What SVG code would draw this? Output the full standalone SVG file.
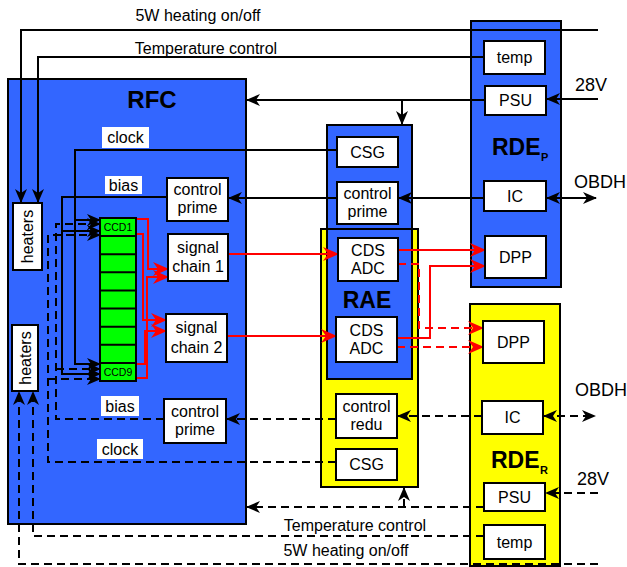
<svg xmlns="http://www.w3.org/2000/svg" width="627" height="567" viewBox="0 0 627 567">
<style>
text{font-family:"Liberation Sans",Arial,sans-serif;fill:#000}
.lbl{font-size:16px;text-anchor:middle}
.side{font-size:18px}
.ttl{font-size:23px;font-weight:bold}
.sub{font-size:11px;font-weight:bold}
.ccdt{font-size:10.5px;text-anchor:middle}
.box{fill:#fff;stroke:#000;stroke-width:2}
.blue{fill:#3366ff;stroke:#000;stroke-width:2}
.yel{fill:#ffff00;stroke:#000;stroke-width:2}
.tag{fill:#fff;stroke:none}
.k{fill:none;stroke:#000;stroke-width:2}
.kd{fill:none;stroke:#000;stroke-width:2;stroke-dasharray:8,5}
.r{fill:none;stroke:#ff0000;stroke-width:2}
.rd{fill:none;stroke:#ff0000;stroke-width:2;stroke-dasharray:8,5}
.k,.kd{marker-end:url(#ak)}
.r,.rd{marker-end:url(#ar)}
.both{marker-start:url(#ak)}
</style>
<defs>
<marker id="ak" viewBox="0 0 14 12" markerWidth="14" markerHeight="12" refX="13" refY="6" orient="auto-start-reverse" markerUnits="userSpaceOnUse"><path d="M0,0 L14,6 L0,12 L4,6 z" fill="#000" stroke="none"/></marker>
<marker id="ar" viewBox="0 0 16 14" markerWidth="16" markerHeight="14" refX="15" refY="7" orient="auto" markerUnits="userSpaceOnUse"><path d="M0,0 L16,7 L0,14 L5,7 z" fill="#ff0000" stroke="none"/></marker>
</defs>

<!-- containers -->
<g id="RFC">
<rect class="blue" x="8" y="79" width="238" height="445"/>
<text class="ttl" x="152" y="108" text-anchor="middle" style="font-size:24px">RFC</text>
</g>
<g id="RAE">
<rect x="321" y="229" width="97" height="258" fill="#ffff00"/>
<rect class="blue" x="327" y="125" width="85" height="254"/>
<rect x="321" y="229" width="97" height="258" fill="none" stroke="#000" stroke-width="2"/>
<text class="ttl" x="367" y="308" text-anchor="middle">RAE</text>
</g>
<g id="RDE_P">
<rect class="blue" x="471" y="21" width="90" height="266"/>
<text class="ttl" x="492" y="155">RDE</text><text class="sub" x="541" y="161">P</text>
</g>
<g id="RDE_R">
<rect class="yel" x="470" y="304" width="90" height="262"/>
<text class="ttl" x="491" y="468">RDE</text><text class="sub" x="540" y="474">R</text>
</g>

<!-- connectors -->
<g id="connectors">
<path class="k" d="M598,30 H21 V202"/>
<path class="k" d="M484,57 H38 V202"/>
<path class="k" d="M598,99 H547"/>
<path class="k" d="M485,100 H247"/>
<path class="k" d="M402,100 V124"/>
<path class="k both" d="M547,198 H596"/>
<path class="k" d="M484,198 H399"/>
<path class="k" d="M337,198 H229"/>
<path class="k" d="M337,150 H75 V364 H100"/>
<path class="k" d="M75,220 H100"/>
<path class="k" d="M167,197 H62 V374 H100"/>
<path class="k" d="M62,231 H100"/>

<path class="kd" d="M598,564 H19 V392"/>
<path class="kd" d="M484,536 H33 V392"/>
<path class="kd" d="M598,493 H546"/>
<path class="kd" d="M484,507 H247"/>
<path class="kd" d="M404,507 V488"/>
<path class="kd both" d="M544,416 H595"/>
<path class="kd" d="M482,416 H398"/>
<path class="kd" d="M336,419 H227"/>
<path class="kd" d="M164,419 H56 V224 H100"/>
<path class="kd" d="M56,369 H100"/>
<path class="kd" d="M336,462 H48 V235 H100"/>
<path class="kd" d="M48,379 H100"/>

<path class="r" d="M136,219 H148 V269 H168"/>
<path class="r" d="M136,234 H143 V320 H166"/>
<path class="r" d="M136,364 H145 V331 H166"/>
<path class="r" d="M136,378 H147 V277 H168"/>
<path class="r" d="M228,254 H338"/>
<path class="r" d="M227,336 H336"/>
<path class="r" d="M398,250 H485"/>
<path class="r" d="M397,338 H430 V266 H485"/>
<path class="rd" d="M398,264 H419 V328 H483"/>
<path class="rd" d="M397,347 H483"/>
</g>

<!-- free labels -->
<g id="labels">
<text class="lbl" x="198" y="21">5W heating on/off</text>
<text class="lbl" x="206" y="54">Temperature control</text>
<text class="lbl" x="355" y="531">Temperature control</text>
<text class="lbl" x="346" y="556">5W heating on/off</text>
<text class="side" x="575" y="91">28V</text>
<text class="side" x="574" y="188">OBDH</text>
<text class="side" x="575" y="396">OBDH</text>
<text class="side" x="577" y="485">28V</text>
<rect class="tag" x="102" y="127" width="47" height="21"/><text class="lbl" x="125.5" y="143">clock</text>
<rect class="tag" x="105" y="176" width="37" height="18"/><text class="lbl" x="123.5" y="191">bias</text>
<rect class="tag" x="101" y="396" width="38" height="20"/><text class="lbl" x="120" y="412">bias</text>
<rect class="tag" x="97" y="439" width="46" height="20"/><text class="lbl" x="120" y="455">clock</text>
</g>

<!-- RFC nodes -->
<g id="heaters1"><rect class="box" x="13" y="203" width="29" height="67"/><text class="lbl" transform="translate(33,236.5) rotate(-90)">heaters</text></g>
<g id="heaters2"><rect class="box" x="12" y="325" width="26" height="66"/><text class="lbl" transform="translate(31,358) rotate(-90)">heaters</text></g>
<g id="CCD">
<rect x="100" y="218" width="36" height="163" fill="#00ff00" stroke="#000" stroke-width="2"/>
<path d="M100,236.1 H136 M100,254.2 H136 M100,272.3 H136 M100,290.4 H136 M100,308.6 H136 M100,326.7 H136 M100,344.8 H136 M100,362.9 H136" stroke="#000" stroke-width="2"/>
<text class="ccdt" x="118" y="231">CCD1</text>
<text class="ccdt" x="118" y="376">CCD9</text>
</g>
<g id="rfc_ctrl_prime"><rect class="box" x="167" y="178" width="61" height="43"/><text class="lbl" x="197.5" y="195">control</text><text class="lbl" x="197.5" y="213">prime</text></g>
<g id="signal_chain1"><rect class="box" x="168" y="234" width="60" height="47"/><text class="lbl" x="198" y="253">signal</text><text class="lbl" x="198" y="272">chain 1</text></g>
<g id="signal_chain2"><rect class="box" x="166" y="314" width="61" height="48"/><text class="lbl" x="196.5" y="333">signal</text><text class="lbl" x="196.5" y="353">chain 2</text></g>
<g id="rfc_ctrl_prime2"><rect class="box" x="164" y="399" width="62" height="44"/><text class="lbl" x="195" y="417">control</text><text class="lbl" x="195" y="435">prime</text></g>

<!-- RAE nodes -->
<g id="rae_csg1"><rect class="box" x="337" y="137" width="61" height="30"/><text class="lbl" x="367.5" y="158">CSG</text></g>
<g id="rae_ctrl_prime"><rect class="box" x="337" y="182" width="61" height="42"/><text class="lbl" x="367.5" y="199">control</text><text class="lbl" x="367.5" y="217">prime</text></g>
<g id="cds_adc1"><rect class="box" x="338" y="238" width="60" height="43"/><text class="lbl" x="368" y="256">CDS</text><text class="lbl" x="368" y="274">ADC</text></g>
<g id="cds_adc2"><rect class="box" x="336" y="317" width="61" height="45"/><text class="lbl" x="366.5" y="336">CDS</text><text class="lbl" x="366.5" y="354">ADC</text></g>
<g id="rae_ctrl_redu"><rect class="box" x="336" y="394" width="61" height="44"/><text class="lbl" x="366.5" y="412">control</text><text class="lbl" x="366.5" y="430">redu</text></g>
<g id="rae_csg2"><rect class="box" x="336" y="449" width="61" height="31"/><text class="lbl" x="366.5" y="470">CSG</text></g>

<!-- RDE_P nodes -->
<g id="p_temp"><rect class="box" x="484" y="41" width="61" height="33"/><text class="lbl" x="514.5" y="63">temp</text></g>
<g id="p_psu"><rect class="box" x="485" y="86" width="61" height="29"/><text class="lbl" x="515.5" y="106">PSU</text></g>
<g id="p_ic"><rect class="box" x="484" y="181" width="62" height="30"/><text class="lbl" x="515" y="202">IC</text></g>
<g id="p_dpp"><rect class="box" x="485" y="236" width="61" height="42"/><text class="lbl" x="515.5" y="263">DPP</text></g>

<!-- RDE_R nodes -->
<g id="r_dpp"><rect class="box" x="483" y="321" width="61" height="42"/><text class="lbl" x="513.5" y="348">DPP</text></g>
<g id="r_ic"><rect class="box" x="482" y="401" width="61" height="33"/><text class="lbl" x="512.5" y="423">IC</text></g>
<g id="r_psu"><rect class="box" x="484" y="483" width="61" height="28"/><text class="lbl" x="514.5" y="503">PSU</text></g>
<g id="r_temp"><rect class="box" x="484" y="525" width="61" height="34"/><text class="lbl" x="514.5" y="548">temp</text></g>
</svg>
